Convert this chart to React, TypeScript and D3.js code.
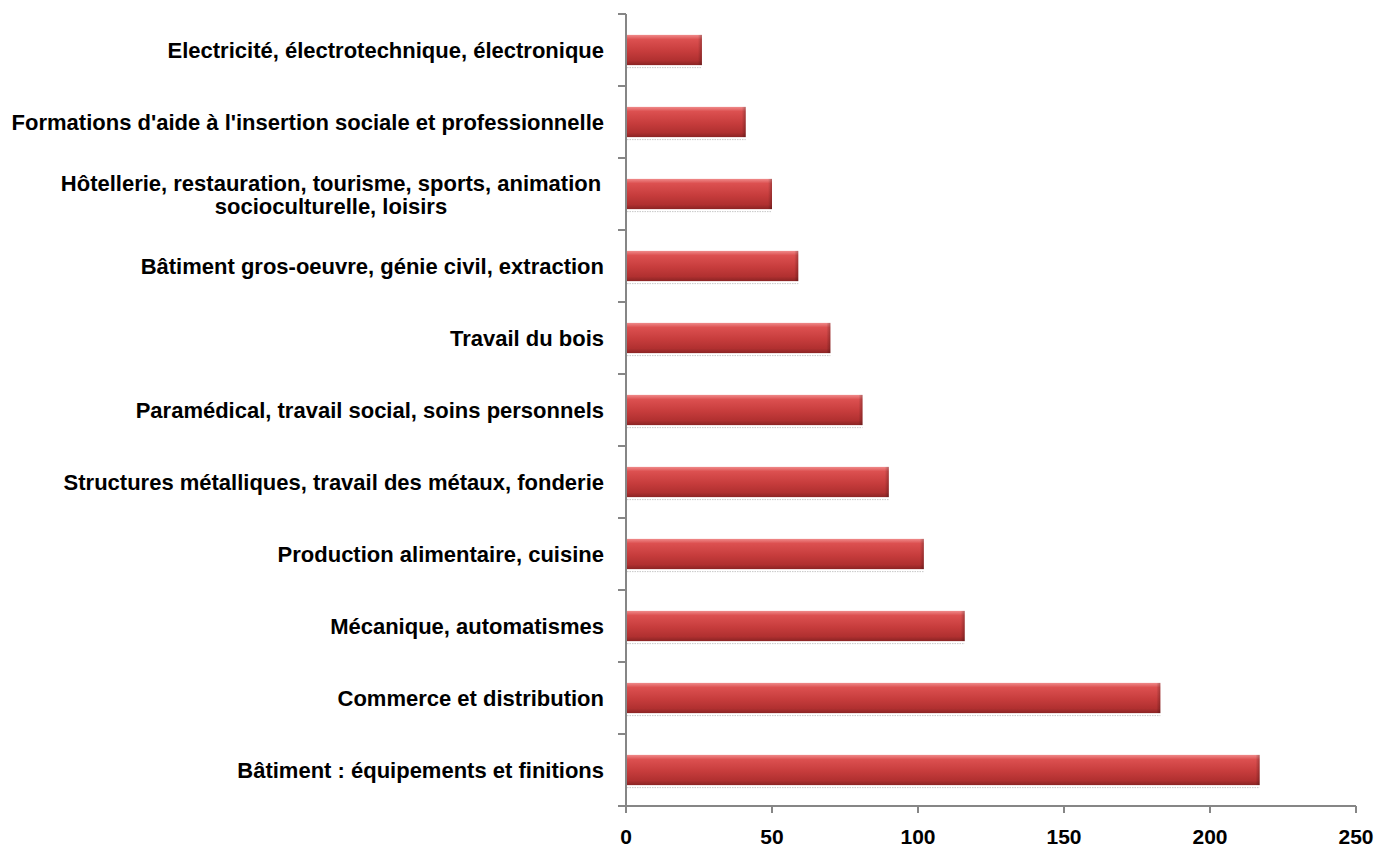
import React from "react";
import * as d3 from "d3";

const categories: string[][] = [
  ["Electricité, électrotechnique, électronique"],
  ["Formations d'aide à l'insertion sociale et professionnelle"],
  ["Hôtellerie, restauration, tourisme, sports, animation", "socioculturelle, loisirs"],
  ["Bâtiment gros-oeuvre, génie civil, extraction"],
  ["Travail du bois"],
  ["Paramédical, travail social, soins personnels"],
  ["Structures métalliques, travail des métaux, fonderie"],
  ["Production alimentaire, cuisine"],
  ["Mécanique, automatismes"],
  ["Commerce et distribution"],
  ["Bâtiment : équipements et finitions"],
];
const values: number[] = [26, 41, 50, 59, 70, 81, 90, 102, 116, 183, 217];
const xTicks: number[] = [0, 50, 100, 150, 200, 250];

export default function App() {
  const W = 1381, H = 850;
  const x0 = 626, x1 = 1356, y0 = 14, y1 = 806;
  const x = d3.scaleLinear().domain([0, 250]).range([x0, x1]);
  const y = d3.scaleBand<number>().domain(d3.range(categories.length)).range([y0, y1]).paddingInner(0.58).paddingOuter(0.29);
  const bandStep = (y1 - y0) / categories.length;
  const font = "'Liberation Sans', Arial, sans-serif";
  const axisColor = "#868686";
  return (
    <svg width={W} height={H} style={{ position: "absolute", left: 0, top: 0, background: "#fff" }}>
      <defs>
        <linearGradient id="barGrad" x1="0" y1="0" x2="0" y2="1">
          <stop offset="0" stopColor="#f08a8a" />
          <stop offset="0.15" stopColor="#dc5050" />
          <stop offset="0.55" stopColor="#c63c3c" />
          <stop offset="0.85" stopColor="#b03030" />
          <stop offset="1" stopColor="#8a2424" />
        </linearGradient>
        <linearGradient id="endGrad" x1="0" y1="0" x2="1" y2="0">
          <stop offset="0" stopColor="#000" stopOpacity="0" />
          <stop offset="1" stopColor="#000" stopOpacity="0.25" />
        </linearGradient>
      </defs>
      {values.map((v, i) => {
        const by = y(i)!;
        const bh = y.bandwidth();
        const bx = x(0) + 1;
        const bw = x(v) - x(0) - 1;
        return (
          <g key={i}>
            <line x1={bx} x2={bx + bw} y1={by + bh + 2.5} y2={by + bh + 2.5} stroke="#c8c8c8" strokeWidth={1} strokeDasharray="1.5 1" />
            <rect x={bx} y={by} width={bw} height={bh} fill="url(#barGrad)" />
            <rect x={bx + bw - 4} y={by} width={4} height={bh} fill="url(#endGrad)" />
          </g>
        );
      })}
      {/* y axis */}
      <line x1={x0} x2={x0} y1={y0} y2={y1} stroke={axisColor} strokeWidth={2} />
      {d3.range(categories.length + 1).map((i) => (
        <line key={i} x1={x0 - 8} x2={x0} y1={y0 + i * bandStep} y2={y0 + i * bandStep} stroke={axisColor} strokeWidth={2} />
      ))}
      {/* x axis */}
      <line x1={x0 - 8} x2={x1} y1={y1} y2={y1} stroke={axisColor} strokeWidth={2} />
      {xTicks.map((t) => (
        <g key={t}>
          <line x1={x(t)} x2={x(t)} y1={y1} y2={y1 + 7} stroke={axisColor} strokeWidth={2} />
          <text x={x(t)} y={844} textAnchor="middle" fontFamily={font} fontWeight="bold" fontSize={21} fill="#000">{t}</text>
        </g>
      ))}
      {categories.map((lines, i) => {
        const cy = y(i)! + y.bandwidth() / 2;
        const lh = 23;
        const startY = cy - ((lines.length - 1) * lh) / 2 + 8;
        return (
          <text key={i} textAnchor={lines.length > 1 ? "middle" : "end"} fontFamily={font} fontWeight="bold" fontSize={22} fill="#000">
            {lines.map((l, j) => (
              <tspan key={j} x={lines.length > 1 ? 331 : 604} y={startY + j * lh}>{l}</tspan>
            ))}
          </text>
        );
      })}
    </svg>
  );
}
